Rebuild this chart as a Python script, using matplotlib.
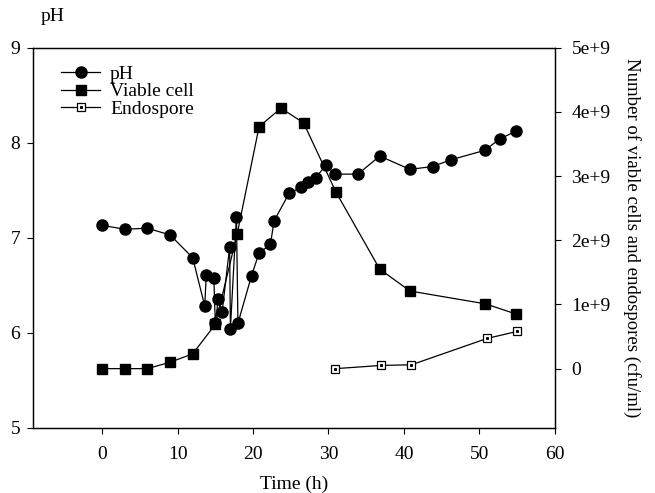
import matplotlib
matplotlib.use("Agg")
import matplotlib.pyplot as plt
from matplotlib.legend_handler import HandlerTuple

plt.rcParams['font.family'] = ['Liberation Serif', 'DejaVu Serif']

# pH readings
ph_time = [0, 3, 6, 9, 12, 13.6, 13.8, 14.8, 15.0, 15.4, 15.9, 16.9, 17.0,
           17.8, 18.0, 19.8, 20.8, 22.3, 22.8, 24.8, 26.4, 27.3, 28.3, 29.7,
           30.8, 33.9, 36.8, 40.8, 43.8, 46.2, 50.7, 52.7, 54.8]
ph_value = [7.13, 7.09, 7.10, 7.03, 6.79, 6.28, 6.61, 6.58, 6.10, 6.36, 6.22,
            6.90, 6.04, 7.22, 6.10, 6.60, 6.84, 6.93, 7.18, 7.47, 7.53, 7.59,
            7.63, 7.77, 7.67, 7.67, 7.86, 7.72, 7.75, 7.82, 7.92, 8.04, 8.12]

# viable cells (cfu/ml)
cell_time = [0, 3, 6, 9, 12, 15, 17.9, 20.8, 23.7, 26.7, 31.0, 36.8, 40.8, 50.8, 54.9]
cell_value = [0.0, 0.0, 0.0, 0.10e9, 0.23e9, 0.69e9, 2.10e9, 3.77e9, 4.06e9,
              3.83e9, 2.75e9, 1.55e9, 1.21e9, 1.01e9, 0.85e9]

# endospores (cfu/ml)
spore_time = [30.9, 37.0, 41.0, 51.0, 55.0]
spore_value = [0.0, 0.05e9, 0.06e9, 0.47e9, 0.58e9]

x_ticks = [0, 10, 20, 30, 40, 50, 60]
ph_ticks = [5, 6, 7, 8, 9]
cell_ticks = [0, 1e9, 2e9, 3e9, 4e9, 5e9]
cell_tick_labels = ['0', '1e+9', '2e+9', '3e+9', '4e+9', '5e+9']

fig = plt.figure(figsize=(6.55, 4.93), dpi=100)
ax = fig.add_axes([0.050, 0.1325, 0.797, 0.7705])
ax2 = ax.twinx()

fs = 14
h_ph, = ax.plot(ph_time, ph_value, color='black', lw=0.9, marker='o', ms=8)
h_cell, = ax2.plot(cell_time, cell_value, color='black', lw=0.9, marker='s', ms=6.5)
h_sp, = ax2.plot(spore_time, spore_value, color='black', lw=0.9, marker='s', ms=5.5,
                 mfc='white', mec='black', mew=0.9)
h_dot, = ax2.plot(spore_time, spore_value, ls='none', marker='s', ms=1.2,
                  color='black')

ax.set_xlim(-9.2, 60)
ax.set_ylim(5, 9)
ax2.set_ylim(-0.92e9, 5e9)

ax.set_xticks(x_ticks)
ax.set_yticks(ph_ticks)
ax2.set_yticks(cell_ticks)
ax2.set_yticklabels(cell_tick_labels)

ax.tick_params(axis='x', direction='out', length=4, width=0.8, labelsize=fs, pad=9)
ax.tick_params(axis='y', direction='out', length=4, width=0.8, labelsize=fs, pad=5)
ax2.tick_params(axis='y', direction='out', length=4, width=0.8, labelsize=fs, pad=8)
for a in (ax, ax2):
    for s in a.spines.values():
        s.set_linewidth(0.9)

ax.set_xlabel('Time (h)', fontsize=fs, labelpad=9)
ax2.set_ylabel('Number of viable cells and endospores (cfu/ml)', fontsize=13.5,
               rotation=270, labelpad=22)
fig.text(0.062, 0.967, 'pH', fontsize=fs, ha='left', va='center')

leg = ax.legend([h_ph, h_cell, (h_sp, h_dot)], ['pH', 'Viable cell', 'Endospore'],
                handler_map={tuple: HandlerTuple(ndivide=1)},
                loc='upper left', bbox_to_anchor=(0.04, 0.975), frameon=False,
                fontsize=fs, handlelength=2.0, handletextpad=0.5,
                labelspacing=0.0, borderaxespad=0)

fig.savefig('out.png', dpi=100)
